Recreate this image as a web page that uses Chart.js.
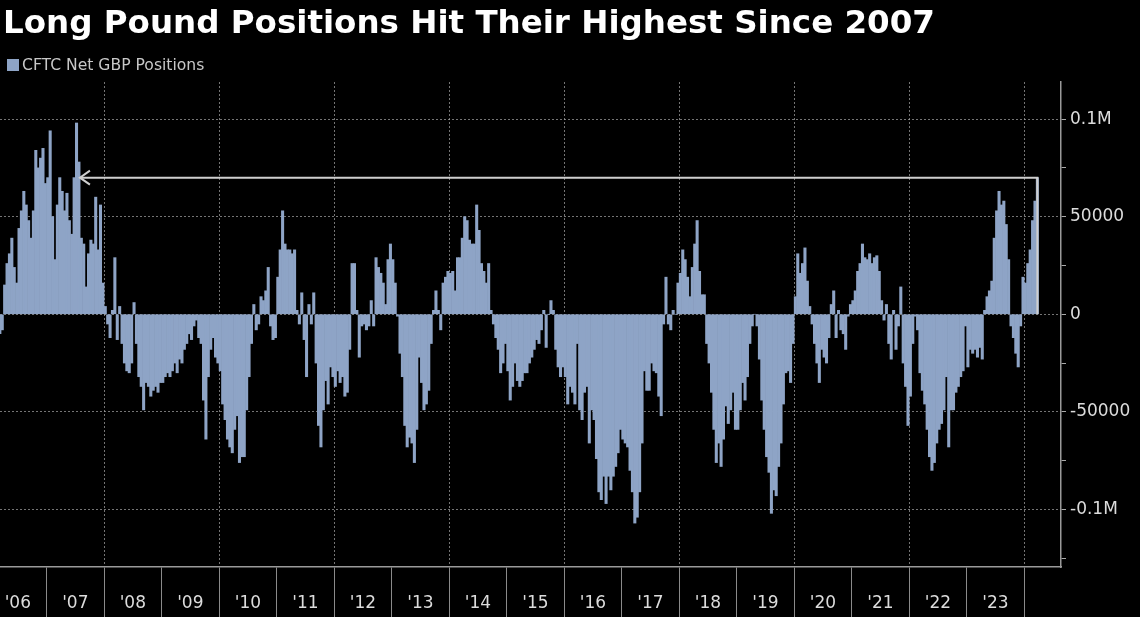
<!DOCTYPE html>
<html>
<head>
<meta charset="utf-8">
<script src="https://cdn.jsdelivr.net/npm/chart.js@4.4.1/dist/chart.umd.min.js"></script>
<style>
  html, body { margin: 0; padding: 0; background: #000; }
  #wrap { position: relative; width: 1140px; height: 617px; overflow: hidden; background: #000; }
  #title {
    position: absolute; left: 3px; top: 3px;
    font-family: "DejaVu Sans", sans-serif; font-weight: bold; font-size: 32.5px;
    color: #fff; white-space: nowrap;
  }
  #legend {
    position: absolute; left: 7px; top: 56px;
    font-family: "DejaVu Sans", sans-serif; font-size: 15.6px; color: #c8c8c8; white-space: nowrap;
  }
  #legend span.box {
    display: inline-block; width: 12px; height: 12px; background: #8ea4c6;
    vertical-align: -1px; margin-right: 3px;
  }
  canvas { position: absolute; left: 0; top: 0; }
</style>
</head>
<body>
<div id="wrap">
  <canvas id="myChart" width="1140" height="617"></canvas>
  <div id="title">Long Pound Positions Hit Their Highest Since 2007</div>
  <div id="legend"><span class="box"></span>CFTC Net GBP Positions</div>
</div>
<script>
// CFTC net GBP positions, thousands of contracts, two readings per month (24 per year)
const slotsPerYear = 24;
const years = [2006, 2007, 2008, 2009, 2010, 2011, 2012, 2013, 2014, 2015,
  2016, 2017, 2018, 2019, 2020, 2021, 2022, 2023, 2024];

const pos2006 = [null, null, null, null, -10, -8, 15, 26, 31, 39, 24, 16, 44, 53, 63, 56, 48, 39, 53, 84, 75, 80, 85, 67];
const pos2007 = [70, 94, 50, 28, 56, 70, 63, 53, 62, 48, 41, 70, 98, 78, 39, 36, 14, 31, 38, 36, 60, 33, 56, 16];
const pos2008 = [4, -5, -12, 2, 29, -13, 4, -15, -25, -29, -30, -25, 6, -15, -32, -37, -49, -35, -37, -42, -39, -37, -40, -35];
const pos2009 = [-35, -32, -30, -32, -29, -25, -30, -23, -25, -18, -15, -10, -13, -6, -3, -12, -15, -44, -64, -32, -18, -12, -22, -25];
const pos2010 = [-29, -46, -54, -64, -68, -71, -59, -52, -76, -73, -73, -49, -32, -15, 5, -8, -5, 9, 7, 12, 24, -6, -13, -12];
const pos2011 = [19, 33, 53, 36, 33, 33, 31, 33, 2, -5, 11, -13, -32, 5, -5, 11, -25, -57, -68, -49, -34, -46, -27, -32];
const pos2012 = [-37, -29, -35, -32, -42, -40, -18, 26, 26, 2, -22, -6, -5, -8, -6, 7, -6, 29, 24, 21, 16, 5, 28, 36];
const pos2013 = [28, 16, -1, -20, -32, -57, -68, -63, -66, -76, -59, -22, -35, -49, -46, -39, -15, 2, 12, 2, -8, 16, 19, 22];
const pos2014 = [21, 22, 12, 29, 29, 39, 50, 48, 38, 36, 36, 56, 43, 26, 22, 16, 26, 2, -5, -12, -18, -30, -25, -15];
const pos2015 = [-29, -44, -37, -25, -34, -37, -34, -30, -30, -25, -22, -18, -13, -15, -8, 2, -17, 0, 7, 2, -18, -27, -32, -27];
const pos2016 = [-32, -46, -37, -40, -46, -15, -49, -54, -40, -37, -66, -49, -54, -74, -91, -95, -83, -97, -83, -90, -83, -78, -71, -59];
const pos2017 = [-64, -66, -68, -80, -91, -107, -104, -91, -66, -29, -39, -39, -25, -29, -30, -42, -52, -5, 19, -5, -8, 2, 0, 16];
const pos2018 = [21, 33, 28, 19, 9, 24, 36, 48, 22, 10, 10, -15, -25, -40, -59, -76, -66, -78, -64, -47, -56, -49, -40, -59];
const pos2019 = [-59, -49, -35, -44, -32, -15, -6, 0, -6, -23, -44, -59, -73, -81, -102, -90, -93, -78, -66, -46, -30, -29, -35, -15];
const pos2020 = [9, 31, 21, 26, 34, 17, 4, -5, -15, -25, -35, -18, -22, -25, -12, 5, 12, -12, 2, -8, -10, -18, -1, 5];
const pos2021 = [7, 12, 22, 26, 36, 29, 28, 31, 26, 29, 30, 22, 7, -3, 5, -15, -23, 2, -18, -6, 14, -25, -37, -57];
const pos2022 = [-42, -15, -1, -8, -30, -39, -46, -59, -73, -80, -76, -66, -59, -56, -49, -32, -68, -49, -49, -40, -37, -32, -29, -6];
const pos2023 = [-27, -18, -20, -18, -22, -17, -23, 2, 9, 12, 17, 39, 53, 63, 56, 58, 46, 28, -6, -12, -20, -27, -6, 19];
const pos2024 = [16, 26, 33, 48, 58, 70];

const netByYear = [pos2006, pos2007, pos2008, pos2009, pos2010, pos2011, pos2012, pos2013, pos2014,
  pos2015, pos2016, pos2017, pos2018, pos2019, pos2020, pos2021, pos2022, pos2023, pos2024];

// annotation: last time positions were this high (2007)
const arrowStart = 2007.58;

// y axis
const yMin = -129500;
const yMax = 119000;
const yTicks = [-125000, -100000, -75000, -50000, -25000, 0, 25000, 50000, 75000, 100000];
const yTickLabels = { "-100000": "-0.1M", "-50000": "-50000", "0": "0", "50000": "50000", "100000": "0.1M" };

// x axis: separators at year starts, label for the year that ends at each one
const xTicks = [2007, 2008, 2009, 2010, 2011, 2012, 2013, 2014, 2015, 2016,
  2017, 2018, 2019, 2020, 2021, 2022, 2023, 2024];

const barColor = "#8ea4c6";
const gridColor = "rgba(165,165,165,0.7)";
const axisColor = "#9a9a9a";
const labelColor = "#dcdcdc";

let points = [];
years.forEach((yr, i) => {
  netByYear[i].forEach((v, k) => {
    if (v === null) return;
    points.push({ x: yr + (k + 0.5) / slotsPerYear, y: v * 1000 });
  });
});

const lastPoint = points[points.length - 1];

const arrowPlugin = {
  id: "arrowLine",
  afterDatasetsDraw(chart) {
    const { ctx, scales } = chart;
    const x0 = scales.x.getPixelForValue(arrowStart);
    const x1 = scales.x.getPixelForValue(lastPoint.x);
    const yTop = scales.y.getPixelForValue(lastPoint.y);
    const yZero = scales.y.getPixelForValue(0);
    ctx.save();
    ctx.strokeStyle = "#cfcfcf";
    ctx.lineWidth = 2;
    ctx.beginPath();
    ctx.moveTo(x0, yTop);
    ctx.lineTo(x1, yTop);
    ctx.lineTo(x1, yZero);
    ctx.stroke();
    // arrow head
    ctx.beginPath();
    ctx.moveTo(x0 + 10, yTop - 7);
    ctx.lineTo(x0, yTop);
    ctx.lineTo(x0 + 10, yTop + 7);
    ctx.stroke();
    ctx.restore();
  },
};

const ctx = document.getElementById("myChart").getContext("2d");
new Chart(ctx, {
  type: "bar",
  data: {
    datasets: [
      {
        label: "CFTC Net GBP Positions",
        data: points,
        backgroundColor: barColor,
        borderWidth: 0,
        barPercentage: 1,
        categoryPercentage: 1,
      },
    ],
  },
  plugins: [arrowPlugin],
  options: {
    responsive: false,
    animation: false,
    devicePixelRatio: 1,
    layout: { padding: { top: 82, left: 0, right: 0, bottom: 0 } },
    plugins: {
      legend: { display: false },
      title: { display: false },
      tooltip: { enabled: false },
    },
    scales: {
      x: {
        type: "linear",
        min: 2006.19,
        max: 2024.64,
        offset: false,
        afterBuildTicks: (scale) => { scale.ticks = xTicks.map((v) => ({ value: v })); },
        afterFit: (scale) => { scale.height = 50; },
        grid: {
          offset: false,
          color: (c) => (c.tick && c.tick.value % 2 === 0 ? gridColor : "rgba(0,0,0,0)"),
          tickColor: "#8a8a8a",
          tickLength: 50,
          lineWidth: 1,
        },
        border: { color: axisColor, width: 1.5, dash: [2, 2] },
        ticks: {
          autoSkip: false,
          maxRotation: 0,
          padding: -24,
          labelOffset: -28.75,
          color: labelColor,
          font: { family: "DejaVu Sans", size: 17 },
          callback: (v) => "'" + String(v - 1).slice(2),
        },
      },
      y: {
        position: "right",
        min: yMin,
        max: yMax,
        afterBuildTicks: (scale) => { scale.ticks = yTicks.map((v) => ({ value: v })); },
        afterFit: (scale) => { scale.width = 79; },
        grid: {
          color: (c) => (c.tick && yTickLabels[String(c.tick.value)] ? gridColor : "rgba(0,0,0,0)"),
          tickColor: "#aaaaaa",
          tickLength: 5,
        },
        border: { color: axisColor, width: 1.5, dash: [2, 2] },
        ticks: {
          autoSkip: false,
          padding: 4,
          color: labelColor,
          font: { family: "DejaVu Sans", size: 17 },
          callback: (v) => yTickLabels[String(v)] || "",
        },
      },
    },
  },
});
</script>
</body>
</html>
